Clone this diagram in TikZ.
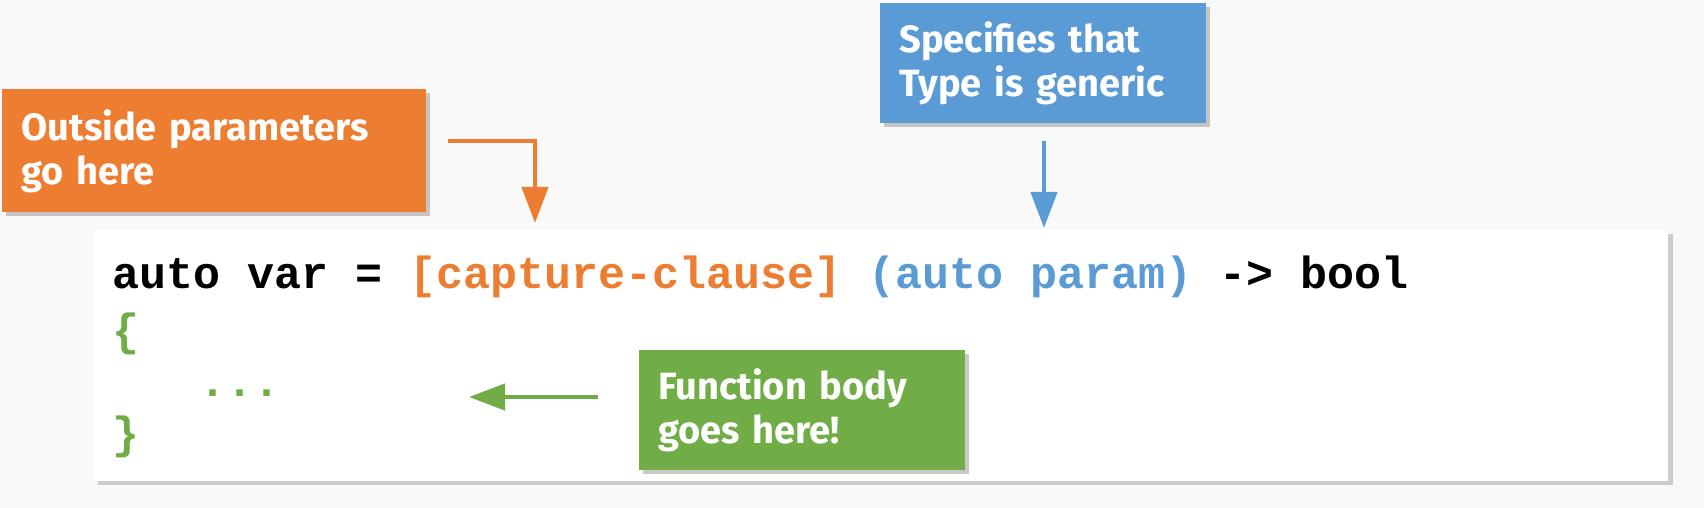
\documentclass[tikz,border=0pt]{standalone}
\usepackage{fontspec}
\setmainfont{Fira Sans}
\newfontfamily\codefont{Liberation Mono}
\newfontfamily\boxfont{Fira Sans}
\usetikzlibrary{arrows.meta,shadows,positioning}
\definecolor{bgcol}{HTML}{F9F9F9}
\definecolor{ocol}{HTML}{ED7D31}
\definecolor{bcol}{HTML}{5B9BD5}
\definecolor{gcol}{HTML}{70AD47}
\tikzset{
  note/.style={draw=none, fill=#1, text=white, anchor=north west, align=left,
    inner xsep=9.5pt, inner ysep=0pt, font=\boxfont\bfseries\fontsize{19}{22}\selectfont,
    drop shadow={shadow xshift=2pt, shadow yshift=-2pt, opacity=0.35, fill=black!60}},
  codebox/.style={draw=none, fill=white, anchor=north west, inner sep=0pt,
    drop shadow={shadow xshift=2.5pt, shadow yshift=-2pt, opacity=0.3, fill=black!60}},
  codeline/.style={anchor=base west, inner sep=0pt, font=\codefont\bfseries\fontsize{22.5}{27}\selectfont},
  pointer/.style={line width=2.2pt, draw=#1, -{Triangle[length=18pt, width=13pt, fill=#1]}},
}
\begin{document}
\begin{tikzpicture}[x=0.5pt, y=-0.5pt]
\fill[bgcol] (0,0) rectangle (1704,508);
\useasboundingbox (0,0) rectangle (1704,508);
% code box
\node[codebox, minimum width=787.5pt, minimum height=125.5pt] (code) at (93,230) {};
\node[codeline] (l1) at (112,288) {auto var = \textcolor{ocol}{[capture-clause]} \textcolor{bcol}{(auto param)} -> bool};
\node[codeline, text=gcol] (l2) at (112,345) {\{};
\node[codeline, text=gcol] (l3) at (199.5,396) {...};
\node[codeline, text=gcol] (l4) at (112,448) {\}};
% notes
\node[note=ocol, text width=193pt, minimum height=61.5pt] (onote) at (2,89) {Outside parameters\\go here};
\node[note=bcol, text width=144pt, minimum height=60pt] (bnote) at (880,3) {Specifies that\\Type is generic};
\node[note=gcol, text width=144pt, minimum height=60pt] (gnote) at (639,350) {Function body\\goes here!};
% arrows
\coordinate (os) at (448,141);
\coordinate (ot) at (535,223);
\coordinate (bs) at (1044,141);
\coordinate (bt) at (1044,228);
\coordinate (gs) at (598,397);
\coordinate (gt) at (469,397);
\draw[pointer=ocol] (os) -| (ot);
\draw[pointer=bcol] (bs) -- (bt);
\draw[pointer=gcol] (gs) -- (gt);
\end{tikzpicture}
\end{document}
